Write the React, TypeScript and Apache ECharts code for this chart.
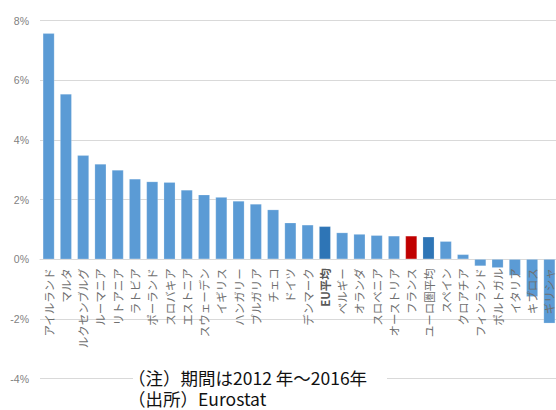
import React, { useEffect, useRef } from "react";
import * as echarts from "echarts";

const categories = [
  "アイルランド", "マルタ", "ルクセンブルグ", "ルーマニア", "リトアニア", "ラトビア",
  "ポーランド", "スロバキア", "エストニア", "スウェーデン", "イギリス", "ハンガリー",
  "ブルガリア", "チェコ", "ドイツ", "デンマーク", "EU平均", "ベルギー", "オランダ",
  "スロベニア", "オーストリア", "フランス", "ユーロ圏平均", "スペイン", "クロアチア",
  "フィンランド", "ポルトガル", "イタリア", "キプロス", "ギリシャ",
];
const values = [
  7.57, 5.54, 3.48, 3.19, 2.99, 2.69, 2.6, 2.58, 2.32, 2.16, 2.08, 1.95, 1.85, 1.66,
  1.22, 1.15, 1.1, 0.89, 0.84, 0.8, 0.78, 0.78, 0.75, 0.6, 0.16, -0.23, -0.29, -0.55,
  -1.26, -2.15,
];
const averageNames = ["EU平均", "ユーロ圏平均"];
const highlightNames = ["フランス"];
const boldLabels = ["EU平均"];
const yTicks = { min: -4, max: 8, interval: 2 };
const noteLines = ["（注）期間は2012 年～2016年", "（出所）Eurostat"];

const FONT = '"Noto Sans CJK JP", "Noto Sans", sans-serif';

const GRID_TOP = 20.5;
const GRID_BOTTOM = 31.5;
const PLOT_H = 410 - GRID_TOP - GRID_BOTTOM;
const ZERO_Y = GRID_TOP + (PLOT_H * (yTicks.max - 0)) / (yTicks.max - yTicks.min);

export default function App() {
  const ref = useRef<HTMLDivElement>(null);
  useEffect(() => {
    if (!ref.current) return;
    const chart = echarts.init(ref.current, undefined, { renderer: "svg" });
    const data = values.map((v, i) => {
      const name = categories[i];
      let color = "#5b9bd5";
      if (averageNames.includes(name)) color = "#2e75b6";
      if (highlightNames.includes(name)) color = "#c00000";
      return { value: v, itemStyle: { color } };
    });
    chart.setOption({
      animation: false,
      backgroundColor: "#fff",
      textStyle: { fontFamily: FONT },
      grid: [
        { left: 40, right: -2, top: GRID_TOP, bottom: GRID_BOTTOM, containLabel: false, outerBoundsMode: "none" },
        { left: 40, right: -2, top: GRID_TOP, height: ZERO_Y - GRID_TOP, containLabel: false, outerBoundsMode: "none" },
      ],
      xAxis: [
        {
          type: "category",
          gridIndex: 0,
          data: categories,
          axisLine: { onZero: true, lineStyle: { color: "#d9d9d9", width: 1 } },
          axisTick: { show: false },
          axisLabel: { show: false },
        },
        {
          type: "category",
          gridIndex: 1,
          data: categories,
          position: "bottom",
          z: 10,
          axisLine: { show: false },
          axisTick: { show: false },
          splitLine: { show: false },
          axisLabel: {
            interval: 0,
            rotate: 90,
            margin: 9,
            fontSize: 11.5,
            color: "#707070",
            fontFamily: FONT,
            hideOverlap: false,
            formatter: (v: string) => (boldLabels.includes(v) ? `{b|${v}}` : v),
            rich: {
              b: { fontWeight: "bold", color: "#595959", fontSize: 11.5, fontFamily: FONT },
            },
          },
        },
      ],
      yAxis: [
        {
          type: "value",
          gridIndex: 0,
          min: yTicks.min,
          max: yTicks.max,
          interval: yTicks.interval,
          axisLine: { show: false },
          axisTick: { show: false },
          splitLine: { lineStyle: { color: "#d9d9d9", width: 1 } },
          axisLabel: {
            formatter: "{value}%",
            fontSize: 10.5,
            color: "#7f7f7f",
            margin: 11,
            fontFamily: '"Liberation Sans", "Noto Sans", sans-serif',
          },
        },
        {
          type: "value",
          gridIndex: 1,
          min: 0,
          max: 1,
          show: false,
        },
      ],
      series: [
        {
          type: "bar",
          xAxisIndex: 0,
          yAxisIndex: 0,
          z: 2,
          data,
          barCategoryGap: "33%",
          itemStyle: { borderColor: "rgba(255,255,255,0.4)", borderWidth: 0.5 },
        },
      ],
      graphic: [
        {
          type: "rect",
          shape: { x: 133, y: 366, width: 254, height: 44 },
          style: { fill: "#fff" },
          z: 100,
        },
        {
          type: "text",
          x: 128,
          y: 387.5,
          style: {
            text: noteLines.join("\n"),
            fill: "#111",
            font: `17.5px ${FONT}`,
            lineHeight: 21,
            verticalAlign: "middle",
          },
          z: 101,
        },
      ],
    });
    return () => chart.dispose();
  }, []);
  return (
    <div
      ref={ref}
      style={{ position: "fixed", left: 0, top: 0, width: 556, height: 410, background: "#fff" }}
    />
  );
}
